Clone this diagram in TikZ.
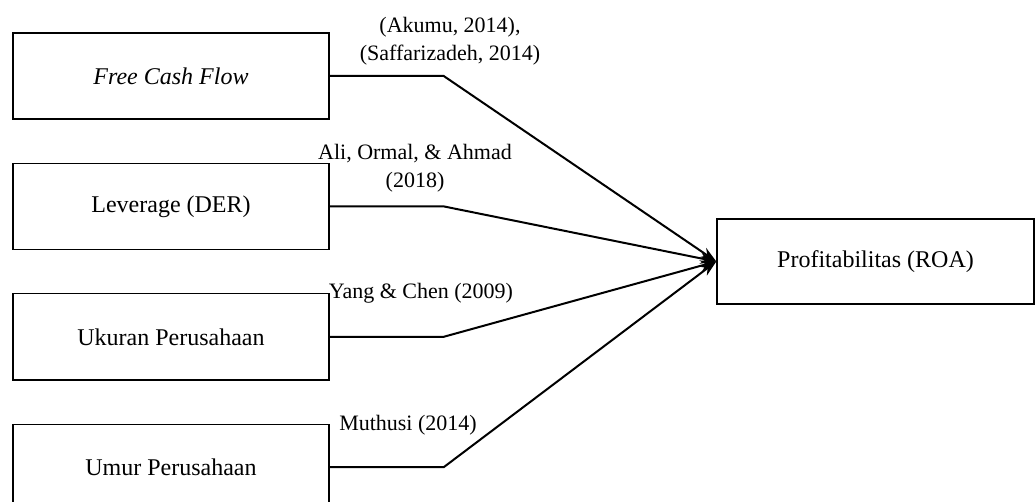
\documentclass[tikz,border=0pt]{standalone}
\usepackage{fontspec}
\setmainfont{Liberation Serif}
\newfontfamily\refserif{Liberation Serif}
\usetikzlibrary{positioning, arrows.meta}
\tikzset{
    factorBox/.style={rectangle, draw=black, line width=1.4pt, fill=white, align=center, minimum width=316pt, minimum height=86pt, font=\refserif\fontsize{24}{28}\selectfont},
    outcomeBox/.style={rectangle, draw=black, line width=1.4pt, fill=white, align=center, minimum width=317pt, minimum height=85pt, font=\refserif\fontsize{24}{28}\selectfont},
    refText/.style={align=center, inner sep=0pt, font=\refserif\fontsize{22}{27.5}\selectfont},
    link/.style={-{Stealth[length=16pt, width=11pt]}, line width=2pt}
}
\begin{document}
\begin{tikzpicture}[x=1pt, y=-1pt]
        \useasboundingbox (0,0) rectangle (1035,502);

        % Independent variables
        \node[factorBox] (FCF) at (171,76) {\itshape Free Cash Flow};
        \node[factorBox, below=43pt of FCF] (DER) {Leverage (DER)};
        \node[factorBox, below=43pt of DER] (Size) {Ukuran Perusahaan};
        \node[factorBox, below=43pt of Size] (Age) {Umur Perusahaan};

        % Dependent variable
        \node[outcomeBox] (ROA) at (875.5,261.5) {Profitabilitas (ROA)};

        % Bends
        \coordinate[right=114pt of FCF.east] (bFCF);
        \coordinate[right=114pt of DER.east] (bDER);
        \coordinate[right=114pt of Size.east] (bSize);
        \coordinate[right=114pt of Age.east] (bAge);

        % Links
        \draw[link] (FCF.east) -- (bFCF) -- (ROA.west);
        \draw[link] (DER.east) -- (bDER) -- (ROA.west);
        \draw[link] (Size.east) -- (bSize) -- (ROA.west);
        \draw[link] (Age.east) -- (bAge) -- (ROA.west);

        % References
        \node[refText] (refFCF) at (450,41) {(Akumu, 2014),\\(Saffarizadeh, 2014)};
        \node[refText] (refDER) at (415,168) {Ali, Ormal, \& Ahmad\\(2018)};
        \node[refText] (refSize) at (421,293) {Yang \& Chen (2009)};
        \node[refText] (refAge) at (408,425) {Muthusi (2014)};
    \end{tikzpicture}
\end{document}
